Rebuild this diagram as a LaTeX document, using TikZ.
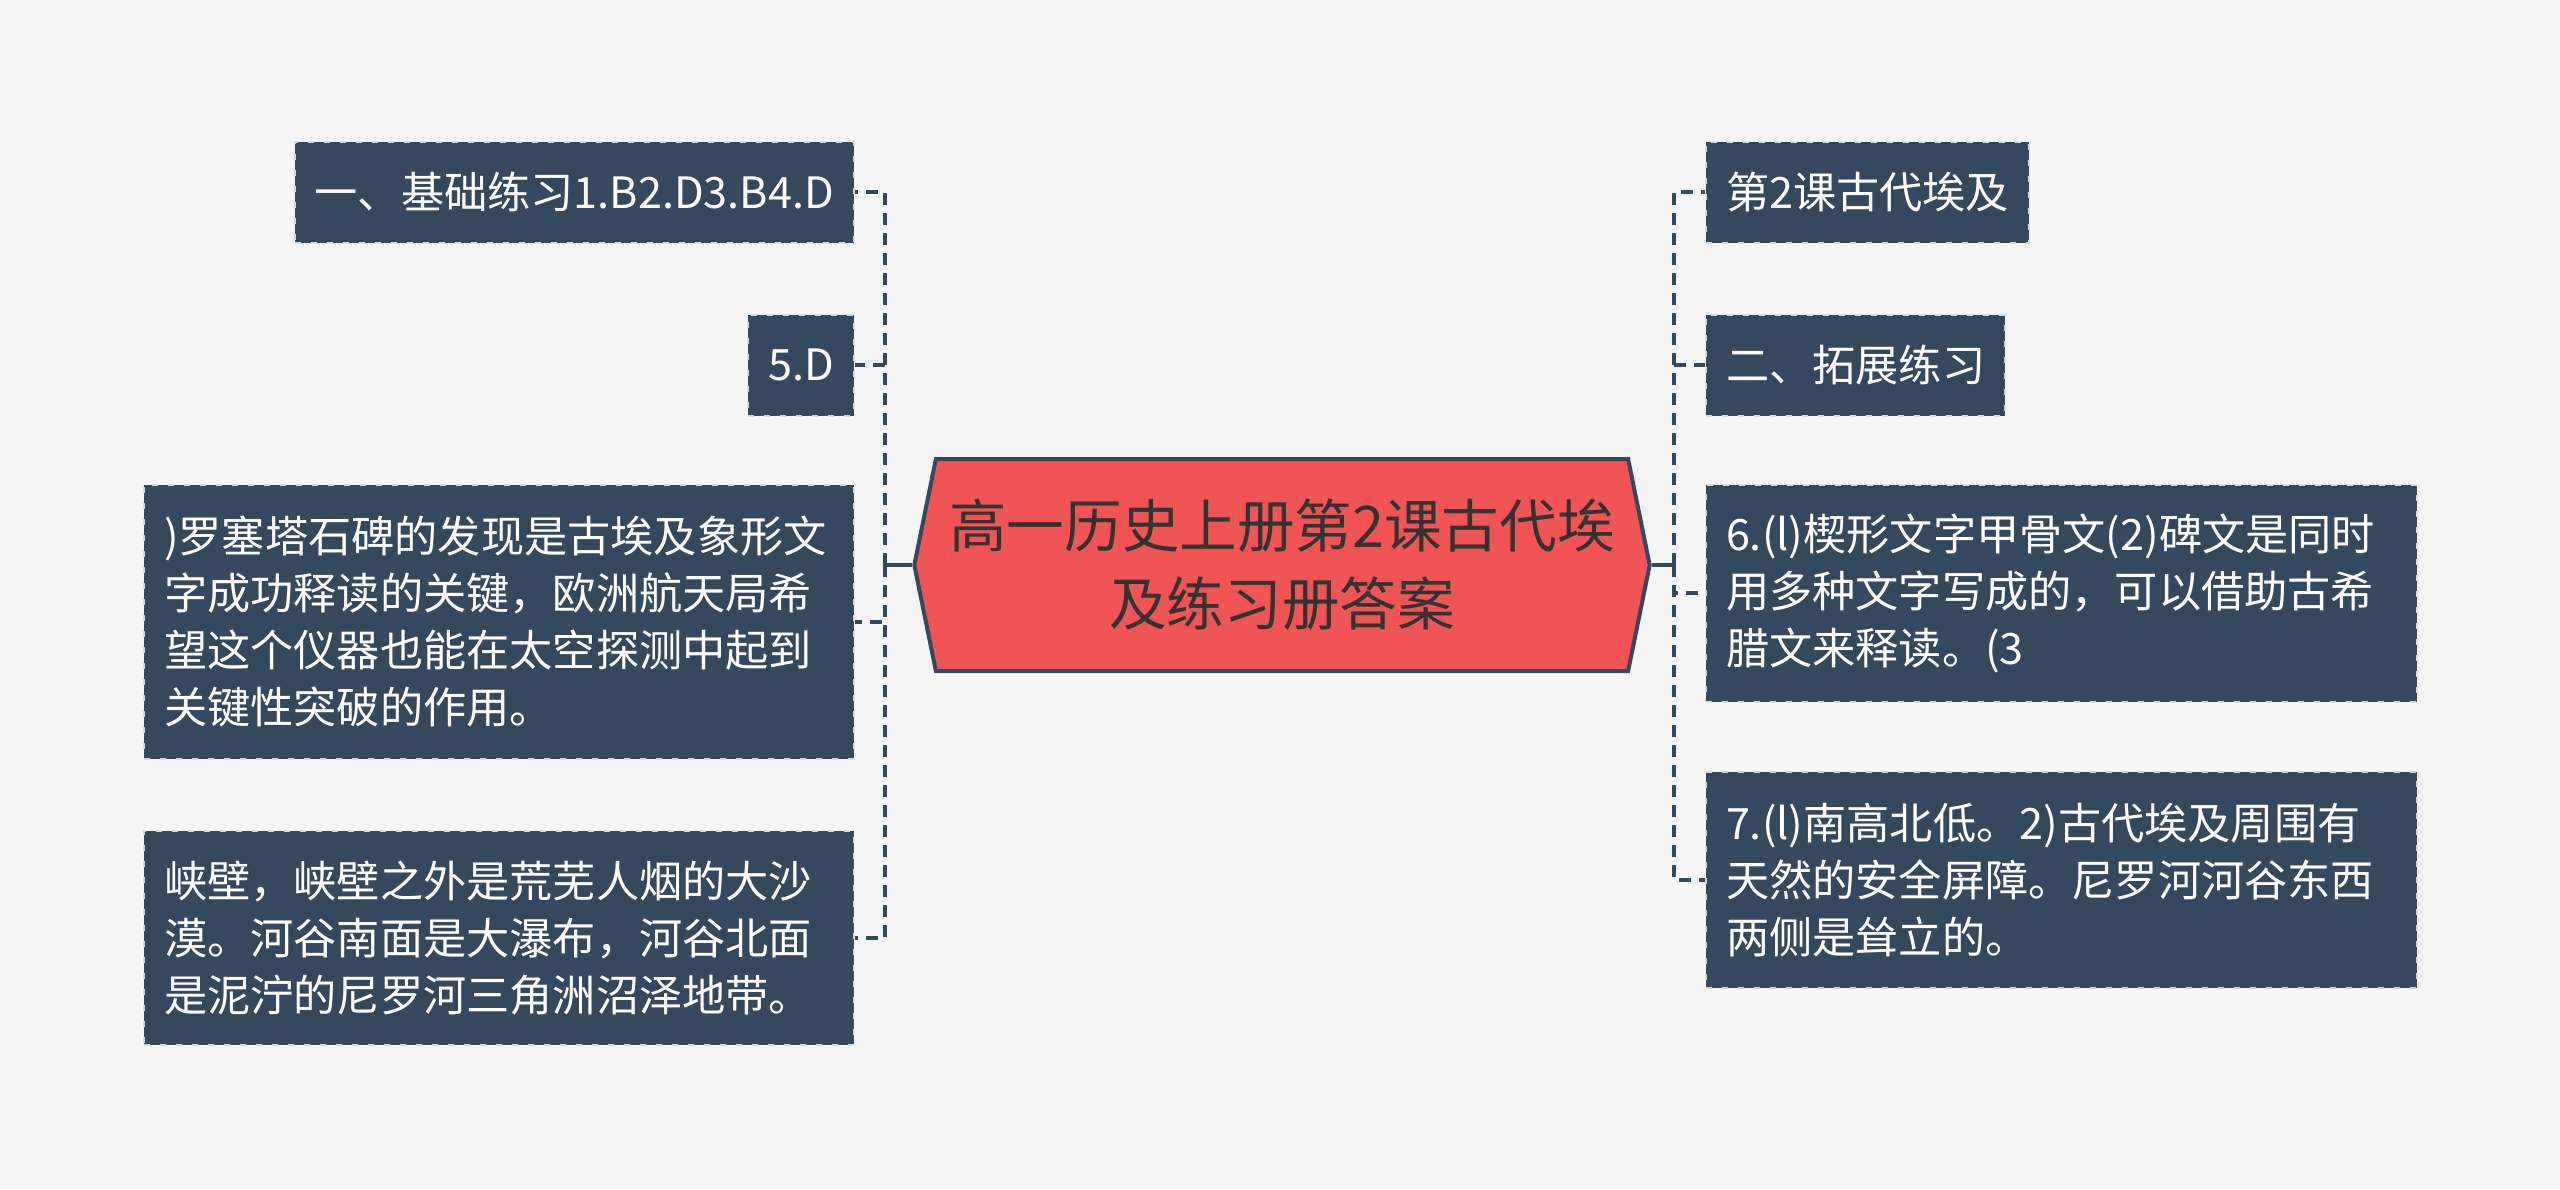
\documentclass[tikz,border=0pt]{standalone}
\usepackage{fontspec}
\usetikzlibrary{shapes.symbols}
\newfontfamily\cjk{Noto Sans CJK SC}
\definecolor{paper}{HTML}{F5F5F5}
\definecolor{slate}{HTML}{34495E}
\definecolor{coral}{HTML}{F05454}
\definecolor{ink}{HTML}{333333}

\begin{document}
\begin{tikzpicture}[x=0.25pt,y=-0.25pt,
  leaf/.style={fill=slate,draw=paper!85!slate,line width=0.5pt,dash pattern=on 1.5pt off 2.5pt,
    text=white,font=\cjk\fontsize{10.8}{14.25}\selectfont,align=left,
    inner xsep=5pt,inner ysep=5.5pt,minimum height=25.25pt},
  title/.style={shape=signal,signal to=west and east,signal pointer angle=157,
    fill=coral,draw=slate,line width=1pt,text=ink,align=center,
    font=\cjk\fontsize{14.4}{19.5}\selectfont,minimum width=182pt,minimum height=53pt},
  link/.style={slate,line width=1pt,dash pattern=on 3pt off 2pt},
  stem/.style={slate,line width=1pt}]
\fill[paper] (0,0) rectangle (2560,1189);
\node[title] (hex) at (1282,565) {高一历史上册第2课古代埃\\及练习册答案};
\node[leaf,anchor=east] (L1) at (855,192) {一、基础练习1.B2.D3.B4.D};
\node[leaf,anchor=east] (L2) at (855,365) {5.D};
\node[leaf,anchor=east,text width=167.5pt,minimum height=68.5pt] (L3) at (855,622)
  {)罗塞塔石碑的发现是古埃及象形文\\字成功释读的关键，欧洲航天局希\\望这个仪器也能在太空探测中起到\\关键性突破的作用。};
\node[leaf,anchor=east,text width=167.5pt,minimum height=53.5pt] (L4) at (855,938)
  {峡壁，峡壁之外是荒芜人烟的大沙\\漠。河谷南面是大瀑布，河谷北面\\是泥泞的尼罗河三角洲沼泽地带。};
\node[leaf,anchor=west] (R1) at (1705,192) {第2课古代埃及};
\node[leaf,anchor=west] (R2) at (1705,365) {二、拓展练习};
\node[leaf,anchor=west,text width=167.75pt,minimum height=54.25pt] (R3) at (1705,593)
  {6.(l)楔形文字甲骨文(2)碑文是同时\\用多种文字写成的，可以借助古希\\腊文来释读。(3};
\node[leaf,anchor=west,text width=167.75pt,minimum height=54pt] (R4) at (1705,880)
  {7.(l)南高北低。2)古代埃及周围有\\天然的安全屏障。尼罗河河谷东西\\两侧是耸立的。};
\coordinate (lj) at (885,565);
\coordinate (rj) at (1674,565);
\draw[stem] (hex.west) -- (lj);
\draw[stem] (hex.east) -- (rj);
\foreach \n in {L1,L2,L3,L4} {\draw[link] (lj) |- (\n.east);}
\foreach \n in {R1,R2,R3,R4} {\draw[link] (rj) |- (\n.west);}
\end{tikzpicture}
\end{document}
